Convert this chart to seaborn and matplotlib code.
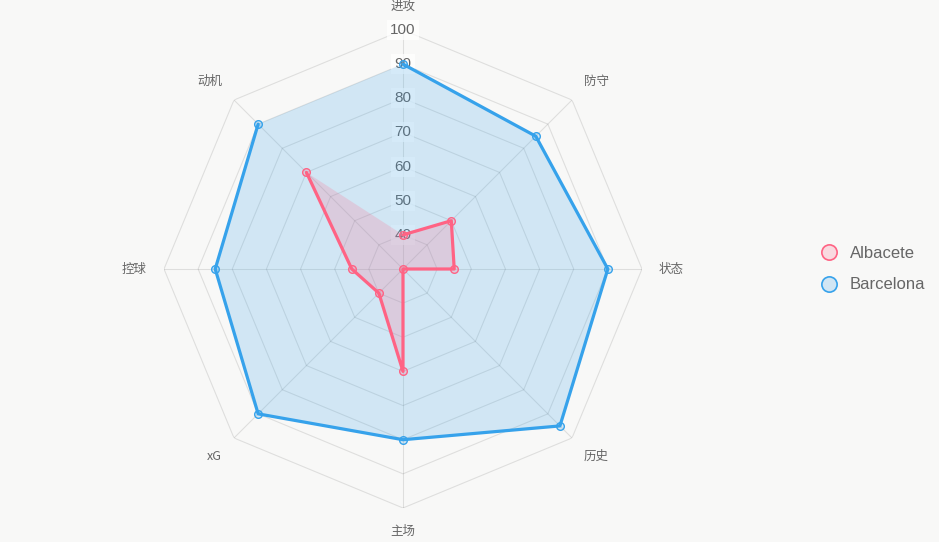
import numpy as np
import pandas as pd
import matplotlib
matplotlib.use("Agg")
import matplotlib.pyplot as plt
import seaborn as sns

categories = ["进攻", "防守", "状态", "历史", "主场", "xG", "控球", "动机"]
albacete = [40, 50, 45, 30, 60, 40, 45, 70]
barcelona = [90, 85, 90, 95, 80, 90, 85, 90]
tick_values = [40, 50, 60, 70, 80, 90, 100]
series_names = ["Albacete", "Barcelona"]

sns.set_theme(style="white")
plt.rcParams["font.family"] = ["Noto Sans CJK SC", "DejaVu Sans"]

BG = "#f8f8f7"
RMIN, RMAX = 30, 100
colors = {"Albacete": "#FF6384", "Barcelona": "#36A2EB"}

fig = plt.figure(figsize=(9.39, 5.42), dpi=100, facecolor=BG)
ax = fig.add_axes([(403 - 239) / 939, (542 - 269 - 239) / 542, 478 / 939, 478 / 542],
                  projection="polar")
ax.set_facecolor("none")
ax.set_theta_offset(np.pi / 2)
ax.set_theta_direction(-1)
ax.set_ylim(RMIN, RMAX)
ax.grid(False)
ax.spines["polar"].set_visible(False)

n = len(categories)
angles = np.arange(n) * 2 * np.pi / n
closed = np.append(angles, angles[0])

# octagonal grid rings
for v in tick_values:
    ax.plot(closed, [v] * (n + 1), color="#000000", alpha=0.1, lw=0.8, zorder=1)
# spokes
for a in angles:
    ax.plot([a, a], [RMIN, RMAX], color="#000000", alpha=0.1, lw=0.8, zorder=1)

# radial tick labels (under the datasets)
for v in tick_values:
    ax.text(0, v, str(v), ha="center", va="center", fontsize=11, color="#666666",
            family=["Liberation Sans"], zorder=2,
            bbox=dict(boxstyle="square,pad=0.2", fc="white", ec="none", alpha=0.75))

data = {"Albacete": albacete, "Barcelona": barcelona}
for name, z in (("Barcelona", 3), ("Albacete", 5)):
    vals = data[name]
    df = pd.DataFrame({"angle": closed, "value": vals + [vals[0]]})
    c = colors[name]
    ax.fill(df["angle"], df["value"], color=c, alpha=0.2, lw=0, zorder=z)
    sns.lineplot(data=df, x="angle", y="value", sort=False, ax=ax, color=c,
                 lw=2.3, marker="o", markersize=5.5,
                 markerfacecolor=matplotlib.colors.to_rgba(c, 0.2),
                 markeredgecolor=c, markeredgewidth=1.0, zorder=z + 0.5, legend=False)

ax.set_xlabel("")
ax.set_ylabel("")
ax.set_xticks([])
ax.set_yticks([])
ax.set_ylim(RMIN, RMAX)

# point labels
lab_r = 105
for a, lab in zip(angles, categories):
    s = np.sin(a)
    if abs(s) < 1e-6:
        ha = "center"
    elif s > 0:
        ha = "left"
    else:
        ha = "right"
    cy = np.cos(a)
    if abs(cy) < 1e-6:
        va = "center"
    elif cy > 0:
        va = "bottom"
    else:
        va = "top"
    ax.text(a, lab_r, lab, ha=ha, va=va, fontsize=9, color="#666666", clip_on=False)

# legend
handles = [plt.Line2D([], [], ls="none", marker="o", markersize=11,
                      markerfacecolor=matplotlib.colors.to_rgba(colors[nm], 0.2),
                      markeredgecolor=colors[nm], markeredgewidth=1.2, label=nm)
           for nm in series_names]
fig.legend(handles=handles, loc="center left", bbox_to_anchor=(797 / 939, 1 - 269 / 542),
           frameon=False, labelcolor="#666666", handletextpad=0.25,
           labelspacing=1.0, prop={"family": ["Liberation Sans"], "size": 12})

fig.savefig("out.png", dpi=100, facecolor=BG)
